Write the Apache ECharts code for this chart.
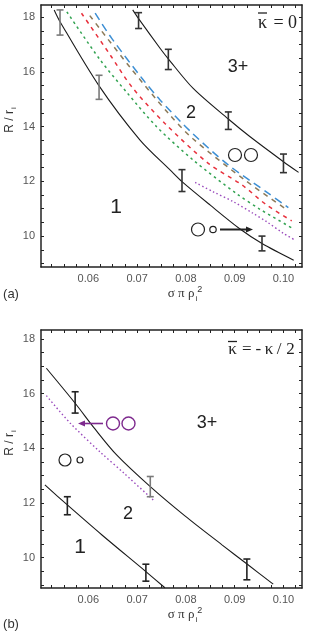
<!DOCTYPE html>
<html><head><meta charset="utf-8">
<script src="https://cdn.jsdelivr.net/npm/echarts@6/dist/echarts.min.js"></script>
<style>html,body{margin:0;padding:0;background:#fff}#c{width:312px;height:634px}</style>
</head><body><div id="c"></div>
<script>
// ---- axis ticks / labels ----
const xLabelValues = [0.06, 0.07, 0.08, 0.09, 0.10];
const xTickValues = [0.0525, 0.055, 0.0575, 0.06, 0.0625, 0.065, 0.0675, 0.07, 0.0725, 0.075, 0.0775, 0.08, 0.0825, 0.085, 0.0875, 0.09, 0.0925, 0.095, 0.0975, 0.1, 0.1025];
const yLabelValues = [10, 12, 14, 16, 18];
const yTickValues = [9, 9.5, 10, 10.5, 11, 11.5, 12, 12.5, 13, 13.5, 14, 14.5, 15, 15.5, 16, 16.5, 17, 17.5, 18];

// ---- panel (a): kappa-bar = 0 ----
const a_b12_x = [0.0530, 0.0542, 0.0621, 0.0706, 0.0768, 0.0792, 0.0850, 0.0911, 0.0956, 0.1021];
const a_b12_y = [18.27, 17.84, 15.52, 13.51, 12.41, 11.99, 11.13, 10.26, 9.73, 9.12];
const a_b23_x = [0.0691, 0.0703, 0.0747, 0.0764, 0.0815, 0.0887, 0.0931, 0.1000, 0.1031];
const a_b23_y = [18.27, 17.95, 16.87, 16.48, 15.40, 14.28, 13.64, 12.72, 12.33];
const a_green_x = [0.0556, 0.0624, 0.0679, 0.0740, 0.0815, 0.0904, 0.0952, 0.1021];
const a_green_y = [18.20, 16.45, 15.25, 14.00, 12.78, 11.55, 10.98, 10.26];
const a_red_x = [0.0586, 0.0645, 0.0689, 0.0757, 0.0846, 0.0915, 0.0966, 0.1017];
const a_red_y = [18.15, 16.62, 15.46, 14.12, 12.66, 11.87, 11.13, 10.56];
const a_brown_x = [0.0603, 0.0686, 0.0764, 0.0815, 0.0923, 0.1010];
const a_brown_y = [18.06, 16.16, 14.49, 13.55, 12.02, 10.93];
const a_blue_x = [0.0614, 0.0648, 0.0710, 0.0747, 0.0811, 0.0885, 0.0967, 0.1010];
const a_blue_y = [18.15, 17.23, 15.77, 14.98, 13.80, 12.63, 11.59, 11.04];
const a_purple_x = [0.0819, 0.0856, 0.0897, 0.0938, 0.0966, 0.1000, 0.1021];
const a_purple_y = [11.96, 11.62, 11.26, 10.83, 10.52, 10.10, 9.88];
// error bars: x, centre, half-height
const a_err_grey_x = [0.0542, 0.0622];
const a_err_grey_y = [17.81, 15.44];
const a_err_grey_e = [0.46, 0.44];
const a_err_dark_x = [0.0703, 0.0764, 0.0887, 0.1000, 0.0792, 0.0956];
const a_err_dark_y = [17.88, 16.46, 14.22, 12.66, 12.03, 9.73];
const a_err_dark_e = [0.29, 0.37, 0.32, 0.34, 0.40, 0.27];

// ---- panel (b): kappa-bar = -kappa/2 ----
const b_b23_x = [0.0514, 0.0573, 0.0614, 0.0658, 0.0727, 0.0798, 0.0874, 0.0928, 0.0979];
const b_b23_y = [16.93, 15.65, 14.70, 13.76, 12.60, 11.53, 10.47, 9.73, 9.03];
const b_b12_x = [0.0511, 0.0557, 0.0628, 0.0718, 0.0757];
const b_b12_y = [12.66, 11.93, 10.83, 9.49, 8.90];
const b_purple_x = [0.0514, 0.0563, 0.0624, 0.0675, 0.0733];
const b_purple_y = [15.93, 14.92, 13.87, 13.06, 12.11];
const b_err_grey_x = [0.0727];
const b_err_grey_y = [12.60];
const b_err_grey_e = [0.37];
const b_err_dark_x = [0.0573, 0.0925, 0.0557, 0.0718];
const b_err_dark_y = [15.68, 9.57, 11.90, 9.45];
const b_err_dark_e = [0.39, 0.38, 0.33, 0.31];

const zip = (xs, ys) => xs.map((x, i) => [x, ys[i]]);
const zip3 = (xs, ys, es) => xs.map((x, i) => [x, ys[i], es[i]]);

function lineSeries(xs, ys, color, type, width, g) {
  return {
    type: 'line', data: zip(xs, ys), xAxisIndex: g * 2, yAxisIndex: g * 2,
    smooth: 0.3, showSymbol: false, symbol: 'none', silent: true, clip: true,
    lineStyle: { color: color, type: type, width: width, cap: 'butt' }, z: 3
  };
}
function errSeries(xs, ys, es, color, g) {
  return {
    type: 'custom', xAxisIndex: g * 2, yAxisIndex: g * 2, silent: true, z: 4,
    data: zip3(xs, ys, es),
    encode: { x: 0, y: 1 },
    renderItem: function (params, api) {
      const x = api.value(0), y = api.value(1), e = api.value(2);
      const t = api.coord([x, y + e]), b = api.coord([x, y - e]);
      const w = 3.5, st = { stroke: color, lineWidth: 1.6 };
      return { type: 'group', children: [
        { type: 'line', shape: { x1: t[0], y1: t[1], x2: b[0], y2: b[1] }, style: st },
        { type: 'line', shape: { x1: t[0] - w, y1: t[1], x2: t[0] + w, y2: t[1] }, style: st },
        { type: 'line', shape: { x1: b[0] - w, y1: b[1], x2: b[0] + w, y2: b[1] }, style: st }
      ]};
    }
  };
}

const sans = 'Liberation Sans';
const serif = 'Liberation Serif';
const axisCol = '#222';

function xAxes(g, min, max) {
  const base = { type: 'value', gridIndex: g, min: min, max: max, splitLine: { show: false },
    axisLine: { show: true, onZero: false, lineStyle: { color: axisCol, width: 1.5 } } };
  return [
    Object.assign({}, base, {
      position: 'bottom',
      axisTick: { show: true, inside: true, length: 3, customValues: xTickValues, lineStyle: { color: axisCol } },
      axisLabel: { show: true, customValues: xLabelValues, margin: 6, color: '#555', fontSize: 11, fontFamily: sans,
        formatter: v => v.toFixed(2) },
      name: '{g|σ π ρ}{sub|i}{sup|2}', nameLocation: 'middle', nameGap: 17,
      nameTextStyle: { padding: [0, 0, 0, 27], rich: {
        g: { fontFamily: serif, fontSize: 13, color: '#333', lineHeight: 18 },
        sub: { fontFamily: sans, fontSize: 8, color: '#333', verticalAlign: 'bottom', padding: [0, 0, 0, 1] },
        sup: { fontFamily: sans, fontSize: 9, color: '#333', verticalAlign: 'top' } } }
    }),
    Object.assign({}, base, {
      position: 'top',
      axisTick: { show: true, inside: true, length: 3, customValues: xTickValues, lineStyle: { color: axisCol } },
      axisLabel: { show: false }
    })
  ];
}
function yAxes(g, min, max) {
  const base = { type: 'value', gridIndex: g, min: min, max: max, splitLine: { show: false },
    axisLine: { show: true, onZero: false, lineStyle: { color: axisCol, width: 1.5 } } };
  return [
    Object.assign({}, base, {
      position: 'left',
      axisTick: { show: true, inside: true, length: 3, customValues: yTickValues, lineStyle: { color: axisCol } },
      axisLabel: { show: true, customValues: yLabelValues, margin: 6, color: '#555', fontSize: 11, fontFamily: sans },
      name: '{g|R / r}{sub|i}', nameLocation: 'middle', nameGap: 23, nameRotate: 90, nameMoveOverlap: false,
      nameTextStyle: { padding: [0, 0, 0, 32], rich: {
        g: { fontFamily: sans, fontSize: 12, color: '#333', lineHeight: 16 },
        sub: { fontFamily: sans, fontSize: 8, color: '#333', verticalAlign: 'bottom', padding: [0, 0, 0, 1] } } }
    }),
    Object.assign({}, base, {
      position: 'right',
      axisTick: { show: true, inside: true, length: 3, customValues: yTickValues, lineStyle: { color: axisCol } },
      axisLabel: { show: false }
    })
  ];
}

const txt = (x, y, text, size, family, color) => ({
  type: 'text', x: x, y: y, silent: true, z: 10,
  style: { text: text, fontSize: size, fontFamily: family, fill: color || '#222', align: 'center', verticalAlign: 'middle' }
});
const circ = (cx, cy, r, color, lw) => ({
  type: 'circle', shape: { cx: cx, cy: cy, r: r }, silent: true, z: 10,
  style: { fill: 'none', stroke: color, lineWidth: lw }
});
const seg = (x1, y1, x2, y2, color, lw) => ({
  type: 'line', shape: { x1: x1, y1: y1, x2: x2, y2: y2 }, silent: true, z: 10,
  style: { stroke: color, lineWidth: lw }
});
const head = (pts, color) => ({
  type: 'polygon', shape: { points: pts }, silent: true, z: 10, style: { fill: color }
});
const purpleAnn = '#7e2a8e';

const chart = echarts.init(document.getElementById('c'), null, { renderer: 'canvas' });
chart.setOption({
  animation: false,
  backgroundColor: '#fff',
  grid: [
    { left: 41, top: 5, width: 261, height: 262, containLabel: false, outerBoundsMode: 'none' },
    { left: 41, top: 330, width: 261, height: 258, containLabel: false, outerBoundsMode: 'none' }
  ],
  xAxis: [].concat(xAxes(0, 0.0503, 0.1038), xAxes(1, 0.0503, 0.1038)),
  yAxis: [].concat(yAxes(0, 8.87, 18.45), yAxes(1, 8.89, 18.33)),
  series: [
    lineSeries(a_purple_x, a_purple_y, '#9a4bbd', [1.5, 2.5], 1.4, 0),
    lineSeries(a_green_x, a_green_y, '#33a352', [2.5, 3.5], 1.5, 0),
    lineSeries(a_red_x, a_red_y, '#e8303c', [4, 4.5], 1.5, 0),
    lineSeries(a_brown_x, a_brown_y, '#8c7a58', [5, 5], 1.5, 0),
    lineSeries(a_blue_x, a_blue_y, '#3d8fd4', [8, 5], 1.5, 0),
    lineSeries(a_b12_x, a_b12_y, '#1a1a1a', 'solid', 1.1, 0),
    lineSeries(a_b23_x, a_b23_y, '#1a1a1a', 'solid', 1.1, 0),
    errSeries(a_err_grey_x, a_err_grey_y, a_err_grey_e, '#7a7a7a', 0),
    errSeries(a_err_dark_x, a_err_dark_y, a_err_dark_e, '#333', 0),
    lineSeries(b_purple_x, b_purple_y, '#9a4bbd', [1.5, 2.5], 1.4, 1),
    lineSeries(b_b23_x, b_b23_y, '#1a1a1a', 'solid', 1.1, 1),
    lineSeries(b_b12_x, b_b12_y, '#1a1a1a', 'solid', 1.1, 1),
    errSeries(b_err_grey_x, b_err_grey_y, b_err_grey_e, '#7a7a7a', 1),
    errSeries(b_err_dark_x, b_err_dark_y, b_err_dark_e, '#222', 1)
  ],
  graphic: [
    // panel (a)
    txt(262.5, 23, 'κ', 18, serif),
    seg(258, 13, 267, 13, '#222', 1.3),
    txt(278.5, 23, '=', 18, serif),
    txt(292.5, 23, '0', 18, serif),
    txt(238, 67, '3+', 18, sans),
    txt(191, 113, '2', 18, sans),
    txt(116, 207, '1', 21, sans),
    circ(235, 155, 6.5, '#222', 1.2), circ(251, 155, 6.5, '#222', 1.2),
    circ(198, 229.5, 6.5, '#222', 1.2), circ(213, 229.5, 3.2, '#222', 1.2),
    seg(220, 229.5, 248, 229.5, '#222', 2),
    head([[246, 226.5], [253, 229.5], [246, 232.5]], '#222'),
    txt(11, 294, '(a)', 13, sans, '#333'),
    // panel (b)
    txt(232.5, 350, 'κ', 17, serif),
    seg(228, 341.5, 237, 341.5, '#222', 1.3),
    txt(246.7, 350, '=', 17, serif),
    txt(258.3, 350, '-', 17, serif),
    txt(269, 350, 'κ', 17, serif),
    txt(279, 350, '/', 17, serif),
    txt(290.5, 350, '2', 17, serif),
    txt(207, 423, '3+', 18, sans),
    txt(128, 514, '2', 18, sans),
    txt(80, 547, '1', 21, sans),
    circ(113, 423.5, 6.5, purpleAnn, 1.4), circ(128.5, 423.5, 6.5, purpleAnn, 1.4),
    seg(83, 423.5, 103, 423.5, purpleAnn, 1.6),
    head([[85, 420.5], [78, 423.5], [85, 426.5]], purpleAnn),
    circ(65, 460, 6, '#222', 1.2), circ(80, 460, 3, '#222', 1.2),
    txt(11, 624, '(b)', 13, sans, '#333')
  ]
});
</script></body></html>
